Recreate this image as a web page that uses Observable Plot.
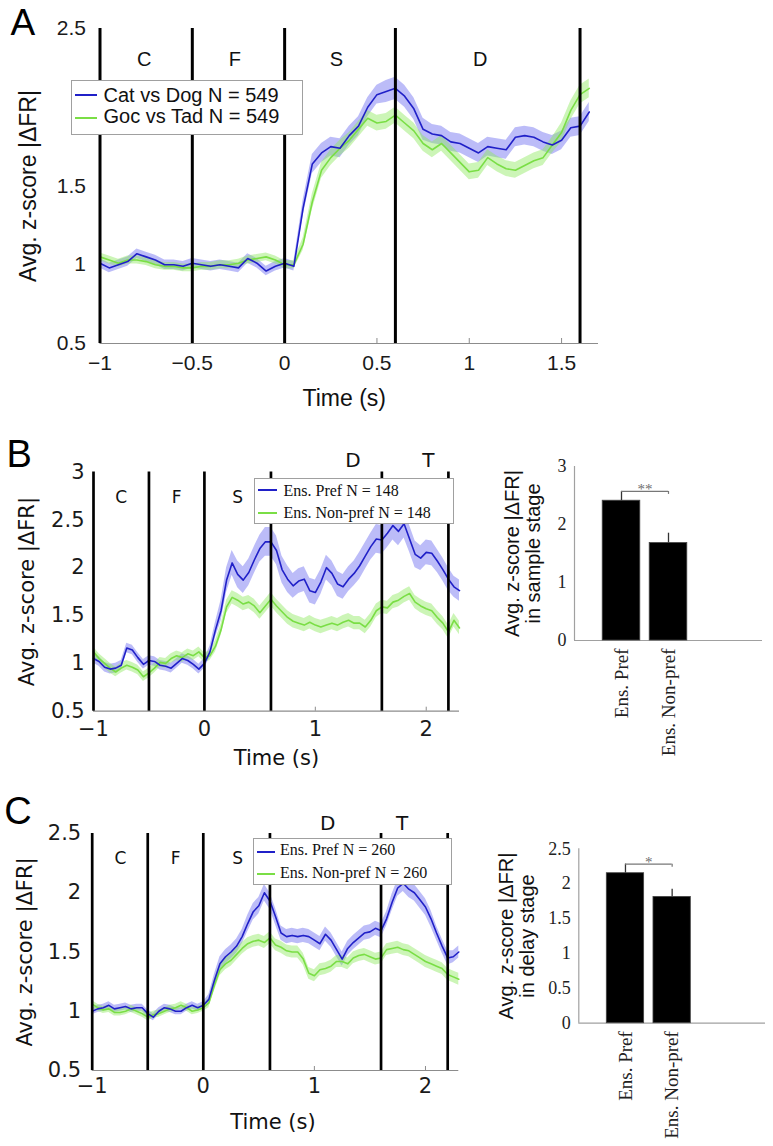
<!DOCTYPE html>
<html><head><meta charset="utf-8">
<script src="https://cdn.jsdelivr.net/npm/d3@7"></script>
<script src="https://cdn.jsdelivr.net/npm/@observablehq/plot@0.6"></script>
<style>
body{margin:0;background:#fff}
#fig{position:relative;width:773px;height:1146px;overflow:hidden;background:#fff}
.panel{position:absolute}
.panel svg{background:transparent}
.legend{position:absolute;background:#fff;border:1px solid #a0a0a0;box-sizing:border-box;z-index:5}
.legend .sw{position:absolute;height:0;border-top:2px solid}
.legend .lab{position:absolute;white-space:nowrap;color:#111}
</style></head><body><div id="fig"></div>
<script>
// ---------- Panel A data ----------
const timeA = [-1,-0.95,-0.9,-0.85,-0.8,-0.75,-0.7,-0.65,-0.6,-0.55,-0.5,-0.45,-0.4,-0.35,-0.3,-0.25,-0.2,-0.15,-0.1,-0.05,0,0.05,0.1,0.15,0.2,0.25,0.3,0.35,0.4,0.45,0.5,0.55,0.6,0.65,0.7,0.75,0.8,0.85,0.9,0.95,1,1.05,1.1,1.15,1.2,1.25,1.3,1.35,1.4,1.45,1.5,1.55,1.6,1.65];
const catDogMeanA = [1.01,0.98,1.00,1.02,1.07,1.05,1.03,1.00,1.00,0.99, 1.01,1.00,0.99,1.00,0.99,0.98,1.04,1.01,0.96,0.99, 1.01,0.99,1.36,1.64,1.71,1.75,1.74,1.82,1.88,2.00, 2.08,2.10,2.12,2.07,1.99,1.86,1.83,1.82,1.78,1.77, 1.74,1.71,1.75,1.74,1.73,1.81,1.82,1.81,1.78,1.76, 1.79,1.87,1.88,1.97];
const catDogSeA = [0.03,0.03,0.03,0.03,0.03,0.03,0.03,0.03,0.03,0.03, 0.03,0.03,0.03,0.03,0.03,0.03,0.03,0.03,0.03,0.03, 0.03,0.03,0.05,0.06,0.06,0.06,0.06,0.06,0.06,0.06, 0.06,0.07,0.07,0.07,0.07,0.07,0.06,0.06,0.06,0.06, 0.06,0.06,0.06,0.06,0.06,0.06,0.06,0.06,0.06,0.06, 0.06,0.06,0.06,0.06];
const gocTadMeanA = [1.05,1.03,1.01,1.03,1.03,1.02,1.00,0.99,0.99,0.98, 0.98,0.99,0.99,1.00,1.00,1.01,1.03,1.04,1.05,1.03, 1.00,1.00,1.13,1.40,1.60,1.68,1.74,1.79,1.86,1.93, 1.90,1.91,1.95,1.90,1.85,1.77,1.73,1.77,1.71,1.65, 1.59,1.60,1.68,1.64,1.61,1.60,1.63,1.66,1.68,1.76, 1.84,1.98,2.08,2.12];
const gocTadSeA = [0.025,0.025,0.025,0.025,0.025,0.025,0.025,0.025,0.025,0.025, 0.025,0.025,0.025,0.025,0.025,0.025,0.025,0.025,0.025,0.025, 0.025,0.025,0.04,0.05,0.05,0.05,0.05,0.05,0.05,0.05, 0.05,0.05,0.05,0.05,0.05,0.05,0.05,0.05,0.05,0.05, 0.05,0.05,0.05,0.05,0.05,0.05,0.05,0.05,0.05,0.05, 0.06,0.06,0.06,0.06];
const seriesNamesA = ["Cat vs Dog N = 549", "Goc vs Tad N = 549"];
const phaseBoundsA = [-1, -0.5, 0, 0.6, 1.6];
const phaseNamesA = ["C", "F", "S", "D"];
const phaseLabelXA = [-0.76, -0.27, 0.28, 1.06];
const phaseLabelYA = [2.30, 2.30, 2.30, 2.30];
const xTicksA = [-1, -0.5, 0, 0.5, 1, 1.5];
const yTicksA = [0.5, 1, 1.5, 2, 2.5];

// ---------- Panels B / C shared time ----------
const timeBC = [-1,-0.95,-0.9,-0.85,-0.8,-0.75,-0.7,-0.65,-0.6,-0.55,-0.5,-0.45,-0.4,-0.35,-0.3,-0.25,-0.2,-0.15,-0.1,-0.05,0,0.05,0.1,0.15,0.2,0.25,0.3,0.35,0.4,0.45,0.5,0.55,0.6,0.65,0.7,0.75,0.8,0.85,0.9,0.95,1,1.05,1.1,1.15,1.2,1.25,1.3,1.35,1.4,1.45,1.5,1.55,1.6,1.65,1.7,1.75,1.8,1.85,1.9,1.95,2,2.05,2.1,2.15,2.2,2.25,2.3];
const phaseBoundsBC = [-1, -0.5, 0, 0.6, 1.6, 2.2];
const xTicksBC = [-1, 0, 1, 2];

// ---------- Panel B data ----------
const prefMeanB = [1.05,1.02,0.96,0.94,0.95,0.98,1.16,1.14,1.06,0.99, 1.03,1.02,0.98,0.97,0.95,1.00,1.05,1.03,0.99,0.94, 1.00,1.12,1.35,1.55,1.87,2.05,1.93,1.87,1.95,2.08, 2.20,2.27,2.27,2.18,1.98,1.88,1.81,1.86,1.88,1.76, 1.74,1.85,2.00,1.94,1.83,1.80,1.88,1.94,2.02,2.12, 2.22,2.30,2.29,2.36,2.44,2.38,2.46,2.30,2.14,2.10, 2.16,2.15,2.07,1.98,1.88,1.80,1.76];
const prefSeB = [0.05,0.05,0.05,0.05,0.05,0.05,0.05,0.05,0.05,0.05, 0.05,0.05,0.05,0.05,0.05,0.05,0.05,0.05,0.05,0.05, 0.05,0.06,0.08,0.11,0.13,0.13,0.14,0.14,0.14,0.14, 0.14,0.15,0.15,0.15,0.14,0.14,0.13,0.13,0.13,0.13, 0.13,0.13,0.13,0.13,0.13,0.13,0.13,0.13,0.14,0.14, 0.14,0.15,0.15,0.15,0.15,0.15,0.15,0.14,0.14,0.13, 0.13,0.13,0.12,0.12,0.12,0.11,0.11];
const nonPrefMeanB = [1.12,1.05,1.00,0.95,0.91,0.95,0.98,0.96,0.93,0.86, 0.90,0.95,1.01,1.00,1.05,1.08,1.06,1.10,1.08,1.12, 1.06,1.08,1.18,1.35,1.59,1.69,1.66,1.62,1.64,1.60, 1.53,1.60,1.67,1.60,1.54,1.48,1.44,1.42,1.40,1.43, 1.40,1.38,1.40,1.42,1.40,1.43,1.45,1.42,1.42,1.38, 1.45,1.55,1.59,1.58,1.64,1.66,1.70,1.73,1.64,1.60, 1.57,1.55,1.48,1.42,1.33,1.45,1.37];
const nonPrefSeB = [0.05,0.05,0.05,0.05,0.05,0.05,0.05,0.05,0.05,0.05, 0.05,0.05,0.05,0.05,0.05,0.05,0.05,0.05,0.05,0.05, 0.05,0.05,0.06,0.06,0.07,0.07,0.07,0.07,0.07,0.07, 0.07,0.07,0.07,0.07,0.07,0.07,0.07,0.07,0.07,0.07, 0.07,0.07,0.07,0.07,0.07,0.07,0.07,0.07,0.07,0.07, 0.07,0.07,0.07,0.07,0.07,0.07,0.07,0.07,0.07,0.07, 0.07,0.07,0.07,0.07,0.07,0.07,0.07];
const seriesNamesB = ["Ens. Pref N = 148", "Ens. Non-pref N = 148"];
const phaseNamesB = ["C", "F", "S", "D", "T"];
const phaseLabelXB = [-0.75, -0.25, 0.30, 1.34, 2.02];
const phaseLabelYB = [2.73, 2.73, 2.73, 3.12, 3.12];
const yTicksB = [0.5, 1, 1.5, 2, 2.5, 3];

// ---------- Panel C data ----------
const prefMeanC = [1.00,1.02,1.03,1.05,1.02,1.03,1.04,1.02,1.03,1.03, 0.98,0.95,1.00,1.03,1.02,1.00,1.00,1.03,1.05,1.03, 1.05,1.10,1.26,1.40,1.46,1.50,1.55,1.63,1.74,1.84, 1.89,2.00,1.93,1.80,1.66,1.63,1.64,1.63,1.64,1.63, 1.60,1.57,1.65,1.60,1.52,1.44,1.53,1.58,1.62,1.66, 1.67,1.70,1.68,1.78,1.92,2.04,2.08,2.03,2.00,1.94, 1.88,1.78,1.66,1.55,1.45,1.46,1.50];
const prefSeC = [0.03,0.03,0.03,0.03,0.03,0.03,0.03,0.03,0.03,0.03, 0.03,0.03,0.03,0.03,0.03,0.03,0.03,0.03,0.03,0.03, 0.03,0.04,0.05,0.06,0.06,0.06,0.06,0.06,0.07,0.07, 0.07,0.07,0.07,0.07,0.06,0.06,0.06,0.06,0.06,0.06, 0.06,0.06,0.06,0.06,0.06,0.06,0.06,0.06,0.06,0.06, 0.06,0.06,0.06,0.06,0.07,0.07,0.07,0.07,0.07,0.07, 0.07,0.07,0.06,0.06,0.06,0.05,0.05];
const nonPrefMeanC = [1.06,1.03,1.01,1.02,0.99,0.99,1.00,1.02,1.00,0.98, 0.95,0.97,0.98,1.00,1.02,1.03,1.05,1.03,1.00,1.01, 1.03,1.07,1.22,1.35,1.40,1.43,1.48,1.53,1.57,1.59, 1.60,1.58,1.62,1.56,1.54,1.51,1.50,1.50,1.44,1.32, 1.30,1.35,1.36,1.38,1.42,1.42,1.40,1.45,1.47,1.48, 1.46,1.44,1.45,1.52,1.53,1.54,1.52,1.51,1.48,1.45, 1.42,1.40,1.38,1.36,1.31,1.29,1.27];
const nonPrefSeC = [0.03,0.03,0.03,0.03,0.03,0.03,0.03,0.03,0.03,0.03, 0.03,0.03,0.03,0.03,0.03,0.03,0.03,0.03,0.03,0.03, 0.03,0.04,0.05,0.05,0.05,0.05,0.05,0.05,0.05,0.05, 0.05,0.05,0.05,0.05,0.05,0.05,0.05,0.05,0.05,0.05, 0.05,0.05,0.05,0.05,0.05,0.05,0.05,0.05,0.05,0.05, 0.05,0.05,0.05,0.05,0.05,0.05,0.05,0.05,0.05,0.05, 0.05,0.05,0.05,0.05,0.05,0.05,0.05];
const seriesNamesC = ["Ens. Pref N = 260", "Ens. Non-pref N = 260"];
const phaseNamesC = ["C", "F", "S", "D", "T"];
const phaseLabelXC = [-0.745, -0.25, 0.31, 1.12, 1.79];
const phaseLabelYC = [2.29, 2.29, 2.29, 2.58, 2.58];
const yTicksC = [0.5, 1, 1.5, 2, 2.5];

// ---------- Bar charts ----------
const barCategories = ["Ens. Pref", "Ens. Non-pref"];
const barMeansB = [2.41, 1.68];
const barErrB = [0.16, 0.17];
const sigLevelB = 2.57;
const sigStarsB = "**";
const barYTicksB = [0, 1, 2, 3];
const barLabelB = "Avg. z-score |ΔFR|\nin sample stage";

const barMeansC = [2.15, 1.81];
const barErrC = [0.13, 0.11];
const sigLevelC = 2.28;
const sigStarsC = "*";
const barYTicksC = [0, 0.5, 1, 1.5, 2, 2.5];
const barLabelC = "Avg. z-score |ΔFR|\nin delay stage";

const yLabel = "Avg. z-score |ΔFR|";
const xLabel = "Time (s)";

// ---------- colours ----------
const BLUE = "#2020c8", GREEN = "#7ade45";
const BLUE_BAND = "#6a6af0", GREEN_BAND = "#8fe860";

const fmt = d => (d < 0 ? "\u2212" + Math.abs(d) : String(d));

const fig = document.getElementById("fig");
function place(node, left, top, w, h) {
  const d = document.createElement("div");
  d.className = "panel";
  Object.assign(d.style, {left: left + "px", top: top + "px", width: w + "px", height: h + "px"});
  d.appendChild(node);
  fig.appendChild(d);
}

function linePanel(o) {
  const rows = (mean, se) => o.time.map((t, i) => ({t, m: mean[i], lo: mean[i] - se[i], hi: mean[i] + se[i]}));
  const r1 = rows(o.mean1, o.se1), r2 = rows(o.mean2, o.se2);
  const plotH = o.height - o.mt - o.mb;
  const tick = o.tickPx * (o.yDomain[1] - o.yDomain[0]) / plotH;
  const labels = o.phaseNames.map((s, i) => ({s, x: o.phaseX[i], y: o.phaseY[i], big: i >= o.smallCount}));
  return Plot.plot({
    width: o.width, height: o.height,
    marginLeft: o.ml, marginRight: o.mr, marginTop: o.mt, marginBottom: o.mb,
    style: {fontFamily: o.font, fontSize: o.tickFont + "px", background: "transparent", color: "#1a1a1a", overflow: "visible"},
    x: {domain: o.xDomain, ticks: o.xTicks, tickFormat: fmt, tickSize: 0, tickPadding: o.xPad, label: null},
    y: {domain: o.yDomain, ticks: o.yTicks, tickFormat: fmt, tickSize: 0, tickPadding: o.yPad, label: null},
    marks: [
      Plot.areaY(r1, {x: "t", y1: "lo", y2: "hi", fill: BLUE_BAND, fillOpacity: 0.45}),
      Plot.areaY(r2, {x: "t", y1: "lo", y2: "hi", fill: GREEN_BAND, fillOpacity: 0.45}),
      Plot.lineY(r2, {x: "t", y: "m", stroke: GREEN, strokeWidth: 1.6}),
      Plot.lineY(r1, {x: "t", y: "m", stroke: BLUE, strokeWidth: 1.6}),
      Plot.ruleY([o.yDomain[0]], {stroke: "#8c8c8c", strokeWidth: 1.2}),
      Plot.ruleX(o.xTicks, {x: d => d, y1: o.yDomain[0], y2: o.yDomain[0] + tick, stroke: "#8c8c8c"}),
      Plot.ruleX(o.bounds, {x: d => d, y1: o.yDomain[0], y2: o.yDomain[1], stroke: "#000", strokeWidth: o.ruleW}),
      Plot.text(labels.filter(d => !d.big), {x: "x", y: "y", text: "s", fontSize: o.phaseFont, lineAnchor: "middle", fill: "#111"}),
      Plot.text(labels.filter(d => d.big), {x: "x", y: "y", text: "s", fontSize: o.phaseFont2, lineAnchor: "middle", fill: "#111"}),
      Plot.text([yLabel], {frameAnchor: "left", rotate: -90, dx: o.yLabDx, textAnchor: "middle", lineAnchor: "middle", fontSize: o.labFont, fill: "#111"}),
      Plot.text([xLabel], {frameAnchor: "bottom", dx: o.xLabDx, dy: o.xLabDy, textAnchor: "middle", lineAnchor: "bottom", fontSize: o.labFont, fill: "#111"}),
      Plot.text([o.letter], {frameAnchor: "top-left", textAnchor: "start", lineAnchor: "bottom", dx: o.letDx, dy: o.letDy, fontSize: o.letFont, fontFamily: "Liberation Sans", fill: "#000"})
    ]
  });
}

function barPanel(o) {
  const bars = barCategories.map((c, i) => ({c, pos: i + 1, x1: i + 1 - 0.4, x2: i + 1 + 0.4, m: o.means[i], top: o.means[i] + o.errs[i]}));
  const plotH = o.height - o.mt - o.mb;
  const capLen = 3 * (o.yDomain[1] - o.yDomain[0]) / plotH;
  return Plot.plot({
    width: o.width, height: o.height,
    marginLeft: o.ml, marginRight: o.mr, marginTop: o.mt, marginBottom: o.mb,
    style: {fontFamily: "Liberation Serif", fontSize: "18px", background: "transparent", color: "#222", overflow: "visible"},
    x: {domain: [0, 4], axis: null},
    y: {domain: o.yDomain, ticks: o.yTicks, tickFormat: fmt, tickSize: 0, tickPadding: 8, label: null},
    marks: [
      Plot.ruleX([0], {stroke: "#a0a0a0", strokeWidth: 1.2}),
      Plot.ruleY([0], {stroke: "#a0a0a0", strokeWidth: 1.2}),
      Plot.ruleX(bars, {x: "pos", y1: "m", y2: "top", stroke: "#333", strokeWidth: 1.3}),
      Plot.rectY(bars, {x1: "x1", x2: "x2", y: "m", fill: "#000", stroke: "#444", strokeWidth: 0.8}),
      Plot.ruleX([bars[0]], {x: "pos", y1: "top", y2: () => o.sig, stroke: "#777", strokeWidth: 1.2}),
      Plot.ruleY([o.sig], {y: d => d, x1: 1, x2: 2, stroke: "#777", strokeWidth: 1.2}),
      Plot.ruleX([bars[1]], {x: "pos", y1: () => o.sig - capLen, y2: () => o.sig, stroke: "#777", strokeWidth: 1.2}),
      Plot.text([o.stars], {x: () => 1.5, y: () => o.sig, lineAnchor: "bottom", dy: 3, fontSize: 15, fill: "#6e6e6e"}),
      Plot.text(bars, {x: "pos", frameAnchor: "bottom", text: "c", rotate: -90, textAnchor: "end", lineAnchor: "middle", dy: 8, fontSize: 19, fill: "#222"}),
      Plot.text([o.label], {frameAnchor: "left", rotate: -90, dx: o.labDx, lineAnchor: "middle", textAnchor: "middle", fontFamily: "Liberation Sans", fontSize: 20, lineHeight: 1.05, fill: "#111"})
    ]
  });
}

function legend(left, top, w, h, font, size, rows) {
  const L = document.createElement("div");
  L.className = "legend";
  Object.assign(L.style, {left: left + "px", top: top + "px", width: w + "px", height: h + "px"});
  for (const r of rows) {
    const s = document.createElement("div");
    s.className = "sw";
    Object.assign(s.style, {left: r.sx + "px", top: r.sy + "px", width: r.sw + "px", borderTopColor: r.color});
    const t = document.createElement("div");
    t.className = "lab";
    t.textContent = r.label;
    Object.assign(t.style, {left: r.tx + "px", top: r.ty + "px", fontFamily: font, fontSize: size + "px", lineHeight: size + "px"});
    L.appendChild(s); L.appendChild(t);
  }
  fig.appendChild(L);
}

// Panel A
place(linePanel({
  width: 620, height: 420, ml: 99.5, mr: 22, mt: 28, mb: 77,
  time: timeA, mean1: catDogMeanA, se1: catDogSeA, mean2: gocTadMeanA, se2: gocTadSeA,
  xDomain: [-1, 1.7], yDomain: [0.5, 2.5], xTicks: xTicksA, yTicks: yTicksA,
  bounds: phaseBoundsA, phaseNames: phaseNamesA, phaseX: phaseLabelXA, phaseY: phaseLabelYA, smallCount: 4,
  font: "Liberation Sans", tickFont: 21, xPad: 12, yPad: 14, tickPx: 5, ruleW: 3,
  phaseFont: 20, phaseFont2: 20, labFont: 23, yLabDx: -71, xLabDx: -5, xLabDy: 62,
  letter: "A", letFont: 37, letDx: -89.5, letDy: 6
}), 0, 0, 620, 420);

// Panel B line
place(linePanel({
  width: 480, height: 345, ml: 93, mr: 21, mt: 41.5, mb: 64.3,
  time: timeBC, mean1: prefMeanB, se1: prefSeB, mean2: nonPrefMeanB, se2: nonPrefSeB,
  xDomain: [-1, 2.3], yDomain: [0.5, 3], xTicks: xTicksBC, yTicks: yTicksB,
  bounds: phaseBoundsBC, phaseNames: phaseNamesB, phaseX: phaseLabelXB, phaseY: phaseLabelYB, smallCount: 3,
  font: "DejaVu Sans", tickFont: 21, xPad: 10, yPad: 9, tickPx: 4, ruleW: 2.7,
  phaseFont: 17, phaseFont2: 20, labFont: 21, yLabDx: -66, xLabDx: 0, xLabDy: 54,
  letter: "B", letFont: 38, letDx: -87, letDy: -5.5
}), 0, 430, 480, 345);

// Panel C line
place(linePanel({
  width: 480, height: 356, ml: 91.7, mr: 21.7, mt: 43, mb: 76,
  time: timeBC, mean1: prefMeanC, se1: prefSeC, mean2: nonPrefMeanC, se2: nonPrefSeC,
  xDomain: [-1, 2.3], yDomain: [0.5, 2.5], xTicks: xTicksBC, yTicks: yTicksC,
  bounds: phaseBoundsBC, phaseNames: phaseNamesC, phaseX: phaseLabelXC, phaseY: phaseLabelYC, smallCount: 3,
  font: "DejaVu Sans", tickFont: 21, xPad: 8, yPad: 11, tickPx: 4, ruleW: 2.7,
  phaseFont: 17, phaseFont2: 20, labFont: 21, yLabDx: -67, xLabDx: -2.5, xLabDy: 58,
  letter: "C", letFont: 38, letDx: -88, letDy: -10
}), 0, 790, 480, 356);

// Panel B bar
place(barPanel({
  width: 303, height: 350, ml: 104, mr: 11, mt: 36, mb: 140,
  means: barMeansB, errs: barErrB, sig: sigLevelB, stars: sigStarsB,
  yDomain: [0, 3], yTicks: barYTicksB, label: barLabelB, labDx: -52
}), 470, 430, 303, 350);

// Panel C bar
place(barPanel({
  width: 303, height: 346, ml: 108.3, mr: 8, mt: 48.3, mb: 123.3,
  means: barMeansC, errs: barErrC, sig: sigLevelC, stars: sigStarsC,
  yDomain: [0, 2.5], yTicks: barYTicksC, label: barLabelC, labDx: -62
}), 470, 800, 303, 346);

// Legends
legend(71, 80, 232, 55, "Liberation Sans", 20, [
  {label: seriesNamesA[0], color: BLUE, sx: 3, sy: 13.3, sw: 22, tx: 31.5, ty: 4},
  {label: seriesNamesA[1], color: GREEN, sx: 3, sy: 35.7, sw: 22, tx: 31.5, ty: 25}
]);
legend(254, 478, 200, 46, "Liberation Serif", 16, [
  {label: seriesNamesB[0], color: BLUE, sx: 3, sy: 10.3, sw: 19, tx: 28.5, ty: 4.2},
  {label: seriesNamesB[1], color: GREEN, sx: 3, sy: 33.3, sw: 19, tx: 28.5, ty: 26.2}
]);
legend(253, 838, 199, 47, "Liberation Serif", 16, [
  {label: seriesNamesC[0], color: BLUE, sx: 3, sy: 11.7, sw: 18, tx: 26, ty: 3.2},
  {label: seriesNamesC[1], color: GREEN, sx: 3, sy: 33.7, sw: 18, tx: 26, ty: 25.5}
]);
</script></body></html>
